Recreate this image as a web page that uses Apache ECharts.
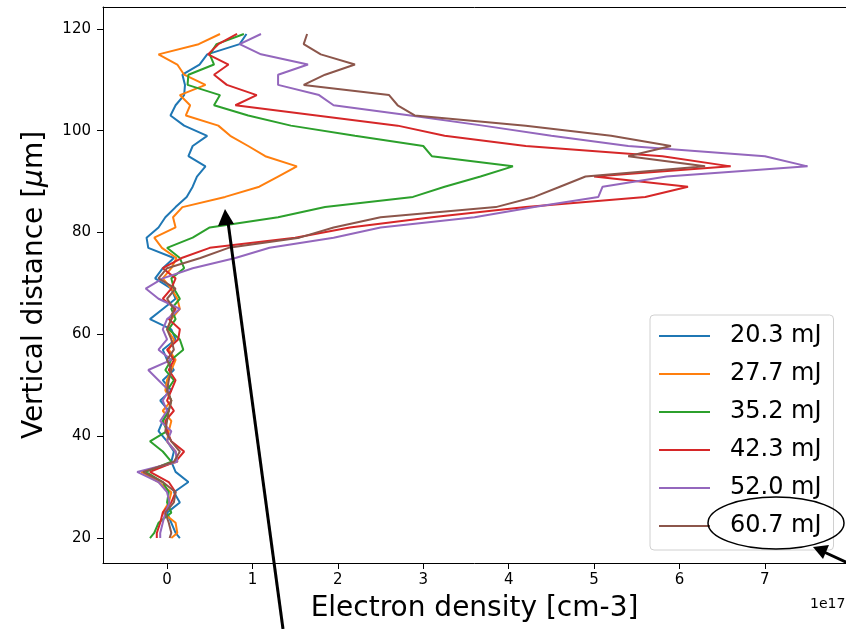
<!DOCTYPE html>
<html>
<head>
<meta charset="utf-8">
<script src="https://cdn.jsdelivr.net/npm/echarts@6/dist/echarts.min.js"></script>
<style>
  html, body { margin: 0; padding: 0; background: #fff; }
  #chart { width: 846px; height: 629px; }
</style>
</head>
<body>
<div id="chart"></div>
<script>
// vertical positions in um, top to bottom
const depth = [119, 117, 115, 113, 111, 109, 107, 105, 103, 101, 99, 97, 95, 93, 91, 89, 87, 85, 83, 81, 79, 77, 75, 73, 71,
  69, 67, 65, 63, 61, 59, 57, 55, 53, 51, 49, 47, 45, 43, 41, 39, 37, 35, 33, 31, 29, 27, 25, 23, 21, 20];

// electron density, units of 1e17 cm-3
const e20_3 = [0.93, 0.85, 0.47, 0.38, 0.18, 0.21, 0.2, 0.1, 0.04, 0.2, 0.47, 0.3, 0.25, 0.45, 0.35, 0.3, 0.23, 0.1, -0.02, -0.1, -0.24, -0.22, 0.08, -0.05, -0.14,
  0.05, 0.1, -0.05, -0.2, 0.05, 0.1, -0.05, 0.0, 0.08, -0.05, 0.05, -0.08, 0.02, -0.05, -0.1, 0.0, 0.08, 0.05, 0.1, 0.25, 0.08, 0.15, 0.0, 0.05, 0.1, 0.15];
const e27_7 = [0.62, 0.37, -0.1, 0.12, 0.2, 0.45, 0.15, 0.27, 0.22, 0.6, 0.74, 0.95, 1.15, 1.52, 1.3, 1.08, 0.68, 0.18, 0.07, 0.1, -0.15, -0.06, 0.11, 0.05, -0.05,
  0.05, 0.12, 0.15, 0.05, 0.0, 0.08, 0.02, 0.1, 0.05, 0.0, -0.02, 0.05, -0.05, 0.05, 0.02, 0.0, 0.1, 0.12, -0.3, -0.1, 0.05, 0.02, -0.05, 0.1, 0.12, 0.05];
const e35_2 = [0.9, 0.58, 0.5, 0.55, 0.25, 0.24, 0.62, 0.55, 0.95, 1.45, 2.2, 3.0, 3.1, 4.05, 3.67, 3.25, 2.88, 1.85, 1.3, 0.5, 0.3, 0.0, 0.15, 0.2, 0.05,
  0.08, 0.15, 0.05, 0.1, 0.02, 0.15, 0.19, 0.05, -0.02, 0.08, 0.0, 0.05, 0.02, -0.05, 0.0, -0.2, -0.05, 0.05, -0.25, -0.05, 0.02, 0.0, 0.05, -0.1, -0.15, -0.2];
const e42_3 = [0.82, 0.6, 0.48, 0.72, 0.55, 0.7, 1.05, 0.8, 1.75, 2.7, 3.25, 4.2, 5.8, 6.6, 5.0, 6.1, 5.6, 4.2, 3.1, 2.14, 1.5, 0.5, 0.17, -0.05, 0.1,
  0.05, -0.05, 0.1, 0.02, 0.15, 0.13, 0.0, 0.08, 0.02, 0.1, 0.05, 0.0, 0.08, -0.02, 0.0, 0.05, 0.2, 0.1, -0.2, 0.02, 0.1, 0.05, -0.05, -0.08, -0.12, -0.12];
const e52_0 = [1.1, 0.85, 1.1, 1.65, 1.3, 1.3, 1.78, 1.95, 2.85, 3.7, 4.5, 5.4, 7.0, 7.5, 5.85, 5.1, 5.05, 4.3, 3.6, 2.5, 1.95, 1.2, 0.8, 0.3, -0.05,
  -0.25, -0.1, 0.15, 0.0, -0.05, 0.0, -0.1, 0.05, -0.22, -0.1, 0.02, -0.05, 0.0, -0.08, 0.05, 0.0, 0.1, 0.12, -0.35, -0.1, 0.0, 0.03, -0.02, -0.05, -0.08, -0.08];
const e60_7 = [1.64, 1.6, 1.8, 2.2, 1.85, 1.6, 2.6, 2.7, 2.9, 4.2, 5.2, 5.9, 5.4, 6.3, 4.9, 4.6, 4.3, 3.85, 2.5, 1.95, 1.55, 0.72, 0.39, 0.0, -0.1,
  0.1, 0.0, 0.08, 0.05, 0.0, 0.05, 0.08, 0.0, 0.05, 0.02, 0.0, 0.05, 0.02, 0.0, -0.02, 0.05, 0.15, 0.08, -0.28, -0.05, 0.1, 0.08, -0.02, 0.02, 0.05, 0.03];

const energies = ['20.3 mJ', '27.7 mJ', '35.2 mJ', '42.3 mJ', '52.0 mJ', '60.7 mJ'];
const profiles = [e20_3, e27_7, e35_2, e42_3, e52_0, e60_7];
const colors = ['#1f77b4', '#ff7f0e', '#2ca02c', '#d62728', '#9467bd', '#8c564b'];

const xTicks = [0, 1, 2, 3, 4, 5, 6, 7];
const yTicks = [20, 40, 60, 80, 100, 120];

const font = 'DejaVu Sans';

const chart = echarts.init(document.getElementById('chart'));
chart.setOption({
  animation: false,
  color: colors,
  textStyle: { fontFamily: font },
  grid: { left: 103, top: 7, right: 0, bottom: 66 },
  legend: {
    orient: 'vertical',
    left: 650,
    top: 315,
    icon: 'rect',
    itemWidth: 51,
    itemHeight: 2,
    itemGap: 14,
    padding: [9, 12, 12, 9],
    backgroundColor: 'rgba(255,255,255,0.8)',
    borderColor: '#d0d0d0',
    borderWidth: 1,
    borderRadius: 4,
    textStyle: { fontSize: 24, color: '#000', fontFamily: font, padding: [0, 0, 0, 15], lineHeight: 24 },
    data: energies
  },
  xAxis: [{
    type: 'value',
    min: -0.75,
    max: 7.95,
    name: 'Electron density [cm-3]',
    nameLocation: 'middle',
    nameGap: 32,
    nameTextStyle: { fontSize: 28, color: '#000', fontFamily: font },
    splitLine: { show: false },
    axisLine: { show: true, onZero: false, lineStyle: { color: '#000', width: 1 } },
    axisTick: { show: true, length: 6, lineStyle: { color: '#000' }, customValues: xTicks },
    axisLabel: { color: '#000', fontSize: 15, margin: 10, customValues: xTicks }
  }, {
    type: 'value',
    position: 'top',
    min: -0.75,
    max: 7.95,
    splitLine: { show: false },
    axisLine: { show: true, onZero: false, lineStyle: { color: '#000', width: 1 } },
    axisTick: { show: false },
    axisLabel: { show: false }
  }],
  yAxis: {
    type: 'value',
    min: 15.1,
    max: 124.3,
    name: 'Vertical distance [{i|μ}m]',
    nameLocation: 'middle',
    nameGap: 54,
    nameRotate: 90,
    nameTextStyle: {
      fontSize: 28, color: '#000', fontFamily: font,
      rich: { i: { fontSize: 28, fontStyle: 'italic', color: '#000', fontFamily: font } }
    },
    splitLine: { show: false },
    axisLine: { show: true, onZero: false, lineStyle: { color: '#000', width: 1 } },
    axisTick: { show: true, length: 6, lineStyle: { color: '#000' }, customValues: yTicks },
    axisLabel: { color: '#000', fontSize: 15, margin: 12, customValues: yTicks }
  },
  series: energies.map(function (name, i) {
    return {
      name: name,
      type: 'line',
      showSymbol: false,
      symbol: 'none',
      lineStyle: { width: 2, color: colors[i] },
      data: depth.map(function (d, j) { return [profiles[i][j], d]; })
    };
  }),
  graphic: [
    { type: 'text', left: 810, top: 597, style: { text: '1e17', fontSize: 14, fill: '#000', fontFamily: font } },
    { type: 'line', z: 100, shape: { x1: 283, y1: 629, x2: 228, y2: 222 }, style: { stroke: '#000', lineWidth: 3 } },
    { type: 'polygon', z: 100, shape: { points: [[225, 209], [218, 226], [234, 224]] }, style: { fill: '#000' } },
    { type: 'ellipse', z: 100, shape: { cx: 776, cy: 523, rx: 68, ry: 26 }, style: { fill: 'none', stroke: '#000', lineWidth: 1.5 } },
    { type: 'line', z: 100, shape: { x1: 850, y1: 564, x2: 824, y2: 552 }, style: { stroke: '#000', lineWidth: 3 } },
    { type: 'polygon', z: 100, shape: { points: [[813, 547], [829, 545], [823, 559]] }, style: { fill: '#000' } }
  ]
});
</script>
</body>
</html>
